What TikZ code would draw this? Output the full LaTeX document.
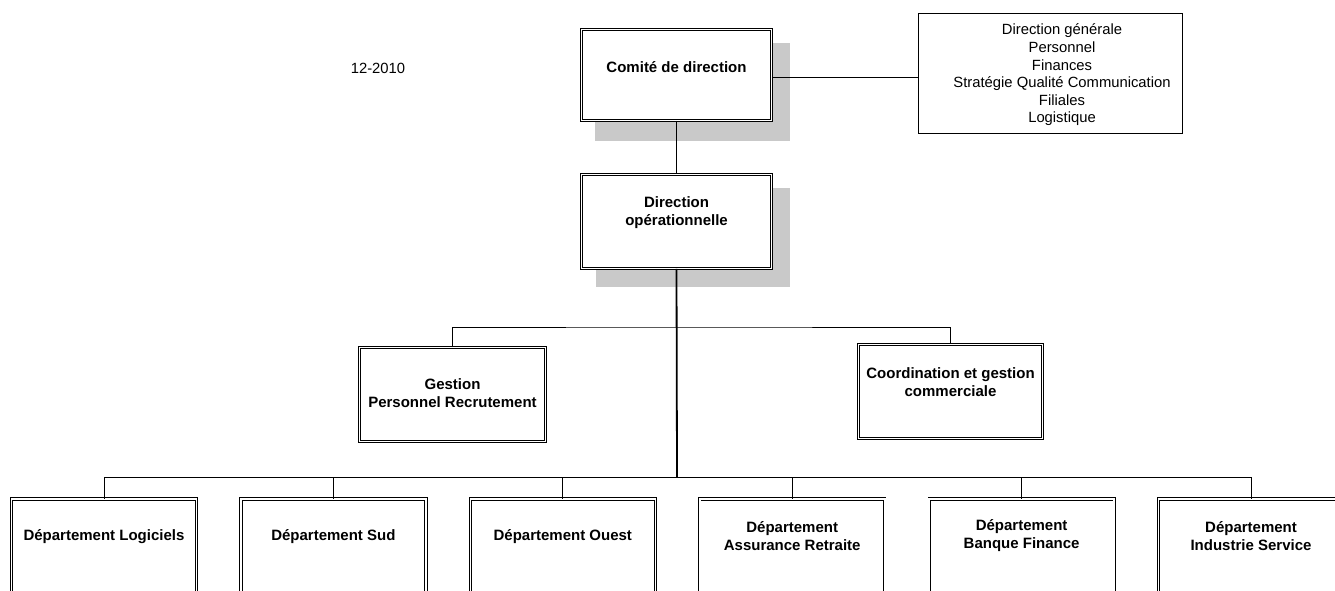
\documentclass[tikz,border=0pt]{standalone}
\usepackage{fontspec}
\setmainfont{Liberation Sans}
\begin{document}
\begin{tikzpicture}[x=1pt,y=-1pt,
  dbox/.style={draw, double, double distance=1.6pt, line width=0.8pt, fill=white, rectangle, inner sep=0pt},
  sbox/.style={draw, line width=0.8pt, fill=white, rectangle, inner sep=0pt},
  shad/.style={fill=black!21, draw=none},
  lbl/.style={font=\fontsize{15}{18}\selectfont\bfseries, align=center, inner sep=0pt},
  rlbl/.style={font=\fontsize{14.8}{17.6}\selectfont, align=center, inner sep=0pt},
  conn/.style={line width=0.8pt},
  mainconn/.style={line width=1.8pt}]
\useasboundingbox (0,0) rectangle (1335,590);
\clip (0,0) rectangle (1335,590);

% shadows
\fill[shad] (595,43) rectangle (790,141);
\fill[shad] (596,188) rectangle (790,287);

% top boxes
\node[dbox, minimum width=190pt, minimum height=91pt] (comite) at (676.5,75) {};
\node[lbl] (comitet) at (676.5,67) {Comité de direction};
\node[dbox, minimum width=190pt, minimum height=94pt] (dirop) at (676.5,221.5) {};
\node[lbl] (diropt) at (676.5,212.5) {Direction\\opérationnelle};

\node[sbox, minimum width=264pt, minimum height=120pt] (fonc) at (1050,73) {};
\node[rlbl] (fonct) at (1062,75) {Direction générale\\Personnel\\Finances\\Stratégie Qualité Communication\\Filiales\\Logistique};

\node[rlbl] (date) at (378,68) {12-2010};

% middle boxes
\node[dbox, minimum width=186pt, minimum height=94pt] (gest) at (452.5,394.5) {};
\node[lbl] (gestt) at (452.5,393.5) {Gestion\\Personnel Recrutement};
\node[dbox, minimum width=184pt, minimum height=94pt] (coord) at (950.5,391.5) {};
\node[lbl] (coordt) at (950.5,382.5) {Coordination et gestion\\commerciale};

% bottom boxes
\foreach \i/\x in {1/104,2/333.4,3/562.8,4/792.2,5/1021.6,6/1251}{
  \node[dbox, minimum width=185pt, minimum height=120pt, anchor=north] (d\i) at (\x,498.5) {};
}
\node[lbl] (d1t) at (104,537) {Département Logiciels};
\node[lbl] (d2t) at (333.4,537) {Département Sud};
\node[lbl] (d3t) at (562.8,537) {Département Ouest};
\node[lbl] (d4t) at (792.2,536) {Département\\Assurance Retraite};
\node[lbl] (d5t) at (1021.6,536) {Département\\Banque Finance};
\node[lbl] (d6t) at (1251,536) {Département\\Industrie Service};

% connectors
\coordinate (bus1) at (677,327);
\coordinate (bus2) at (677,477);
\draw[conn] (comite.south) -- (dirop.north);
\draw[conn] (comite.east) ++(0,2) -- (fonc.west |- 0,77);
\draw[conn] (gest.north) |- (bus1) -| (coord.north);
\draw[mainconn] (dirop.south) -- (bus2);
\draw[conn] (d1.north) |- (bus2) -| (d6.north);
\foreach \i in {2,3,4,5}{
  \draw[conn] (d\i.north) -- (d\i.north |- bus2);
}
\end{tikzpicture}
\end{document}
